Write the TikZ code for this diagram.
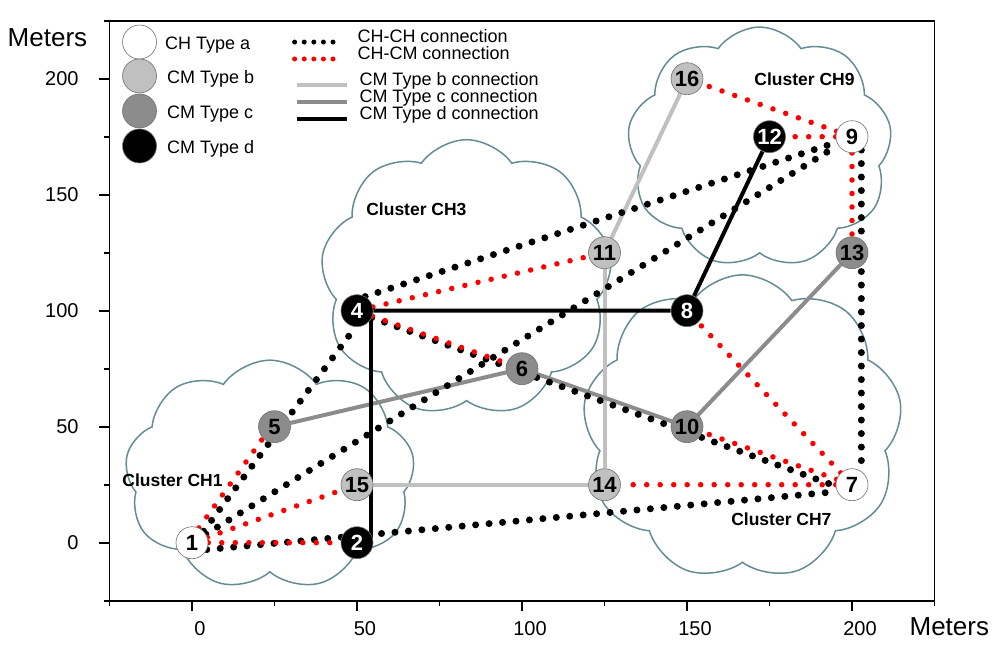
\documentclass[tikz,border=0pt]{standalone}
\usepackage{fontspec}
\setmainfont{Liberation Sans}
\usetikzlibrary{shapes.symbols,backgrounds,positioning}
\definecolor{cmb}{HTML}{C0C0C0}
\definecolor{cmc}{HTML}{8C8C8C}
\definecolor{cloudline}{RGB}{100,140,148}
\definecolor{ringgray}{HTML}{707070}

\begin{document}
\begin{tikzpicture}[x=3.3pt,y=2.32pt,
    nd/.style={circle,draw=ringgray,line width=0.6pt,minimum size=32pt,inner sep=0pt,font=\fontsize{22}{22}\selectfont\bfseries},
    typea/.style={nd,fill=white},
    typeb/.style={nd,fill=cmb},
    typec/.style={nd,fill=cmc},
    typed/.style={nd,fill=black,text=white},
    chch/.style={black,line width=7pt,line cap=round,dash pattern=on 0pt off 13.5pt},
    chcm/.style={red,line width=5.5pt,line cap=round,dash pattern=on 0pt off 13.5pt},
    legdots/.style={line width=5pt,dash pattern=on 0pt off 9.6pt},
    linkb/.style={cmb,line width=4pt},
    linkc/.style={cmc,line width=4pt},
    linkd/.style={black,line width=4pt},
    clust/.style={cloud,cloud puffs=9,cloud puff arc=110,cloud ignores aspect,draw=cloudline,line width=1.5pt},
    clabel/.style={font=\fontsize{17.5}{17.5}\selectfont\bfseries},
    legtext/.style={inner sep=0pt,font=\fontsize{18}{18}\selectfont},
    typetext/.style={inner sep=0pt,font=\fontsize{18}{18}\selectfont},
    ticktext/.style={inner sep=0pt,font=\fontsize{20}{20}\selectfont},
    axtext/.style={inner sep=0pt,font=\fontsize{26}{26}\selectfont}]
    \useasboundingbox (-58.18,-47.11) rectangle (244.85,233.92);

    \begin{scope}[on background layer]
        \node[clust,minimum width=290pt,minimum height=230pt] (cloudone) at (23.6,29.1) {};
        \node[clust,minimum width=292pt,minimum height=277pt] (cloudthree) at (83.2,114.0) {};
        \node[clust,minimum width=265pt,minimum height=241pt] (cloudnine) at (172.0,170.3) {};
        \node[clust,minimum width=320pt,minimum height=305pt] (cloudseven) at (166.8,49.7) {};
    \end{scope}

    \draw[line width=1.8pt] (-25,-25) rectangle (225,225);
    \foreach \v in {0,50,...,200} {
        \draw[line width=1.8pt] (\v,-25) -- (\v,-29.31);
        \draw[line width=1.8pt] (-25,\v) -- (-28.03,\v);
        \node[ticktext] (xtick\v) at ([xshift=8pt]\v,-36.9) {\v};
        \node[ticktext,anchor=east] (ytick\v) at (-34.3,\v) {\v};
    }
    \foreach \v in {-25,25,...,225} {
        \draw[line width=1.8pt] (\v,-25) -- (\v,-27.16);
        \draw[line width=1.8pt] (-25,\v) -- (-26.52,\v);
    }
    \node[axtext] (ymeters) at (-43.8,217.7) {Meters};
    \node[axtext] (xmeters) at (229.5,-36.2) {Meters};

    \node[typea] (n1) at (0,0) {1};
    \node[typed] (n2) at (50,0) {2};
    \node[typed] (n4) at (50,100) {4};
    \node[typec] (n5) at (25,50) {5};
    \node[typec] (n6) at (100,75) {6};
    \node[typea] (n7) at (200,25) {7};
    \node[typed] (n8) at (150,100) {8};
    \node[typea] (n9) at (200,175) {9};
    \node[typec] (n10) at (150,50) {10};
    \node[typeb] (n11) at (125,125) {11};
    \node[typed] (n12) at (175,175) {12};
    \node[typec] (n13) at (200,125) {13};
    \node[typeb] (n14) at (125,25) {14};
    \node[typeb] (n15) at (50,25) {15};
    \node[typeb] (n16) at (150,200) {16};

    \node[clabel] (labone) at (-5.9,27.0) {Cluster CH1};
    \node[clabel] (labthree) at (68.0,143.8) {Cluster CH3};
    \node[clabel] (labnine) at (185.6,199.9) {Cluster CH9};
    \node[clabel] (labseven) at (178.6,10.2) {Cluster CH7};

    \begin{scope}[on background layer]
        \draw[linkb] (n15) -- (n14) -- (n11);
        \draw[linkb] (n11.65) -- (n16.246);
        \draw[linkc] (n5) -- (n6) -- (n10) -- (n13);
        \draw[chch] (n1.45) -- (n4.-95);
        \draw[chch] (n1) -- (n9);
        \draw[chch] (n1.-25) -- (n7.205);
        \draw[chch] (n4.60) -- (n9.200);
        \draw[chch] (n4.-25) -- (n7.185);
        \draw[chch] (n9.-55) -- (n7.55);
        \draw[chcm] (n1.65) -- (n5.225);
        \draw[chcm] (n1) -- (n15);
        \draw[chcm] (n1) -- (n2);
        \draw[chcm] (n4) -- (n11);
        \draw[chcm] (n4) -- (n6);
        \draw[chcm] (n9) -- (n16);
        \draw[chcm] (n9) -- (n12);
        \draw[chcm] (n9) -- (n13);
        \draw[chcm] (n7) -- (n8);
        \draw[chcm] (n7) -- (n10);
        \draw[chcm] (n7) -- (n14);
        \draw[linkd] (n4) -- (n8) -- (n12);
        \draw[linkd] (n4.-30) -- (n4.-30 |- n2.center);
    \end{scope}

    \node[typea,minimum size=34pt] (lega) at (-15.9,215.8) {};
    \node[typeb,minimum size=34pt] (legb) at (-15.9,201.2) {};
    \node[typec,minimum size=34pt] (legc) at (-15.9,186.1) {};
    \node[typed,minimum size=34pt] (legd) at (-15.9,171.0) {};
    \node[typetext,anchor=base west] (legatext) at ([xshift=8pt,yshift=-7.5pt]lega.east) {CH Type a};
    \node[typetext,anchor=base west] (legbtext) at ([xshift=10pt,yshift=-7.5pt]legb.east) {CM Type b};
    \node[typetext,anchor=base west] (legctext) at ([xshift=10pt,yshift=-7.5pt]legc.east) {CM Type c};
    \node[typetext,anchor=base west] (legdtext) at ([xshift=10pt,yshift=-7.5pt]legd.east) {CM Type d};

    \coordinate (lchs) at (31.1,215.8);
    \coordinate (lche) at (45.6,215.8);
    \coordinate (lcms) at (31.1,208.5);
    \coordinate (lcme) at (45.6,208.5);
    \coordinate (lbs) at (31.7,197.3);
    \coordinate (lbe) at (47.1,197.3);
    \coordinate (lcs) at (31.7,190.0);
    \coordinate (lce) at (47.1,190.0);
    \coordinate (lds) at (31.7,182.7);
    \coordinate (lde) at (47.1,182.7);
    \draw[chch,legdots] (lchs) -- (lche);
    \draw[chcm,legdots] (lcms) -- (lcme);
    \draw[linkb] (lbs) -- (lbe);
    \draw[linkc] (lcs) -- (lce);
    \draw[linkd] (lds) -- (lde);
    \node[legtext,anchor=base west] (lchtext) at (50.1,215.4) {CH-CH connection};
    \node[legtext,anchor=base west] (lcmtext) at (50.1,208.1) {CH-CM connection};
    \node[legtext,anchor=base west] (lbtext) at (50.7,196.9) {CM Type b connection};
    \node[legtext,anchor=base west] (lctext) at (50.7,189.6) {CM Type c connection};
    \node[legtext,anchor=base west] (ldtext) at (50.7,182.3) {CM Type d connection};
\end{tikzpicture}
\end{document}
